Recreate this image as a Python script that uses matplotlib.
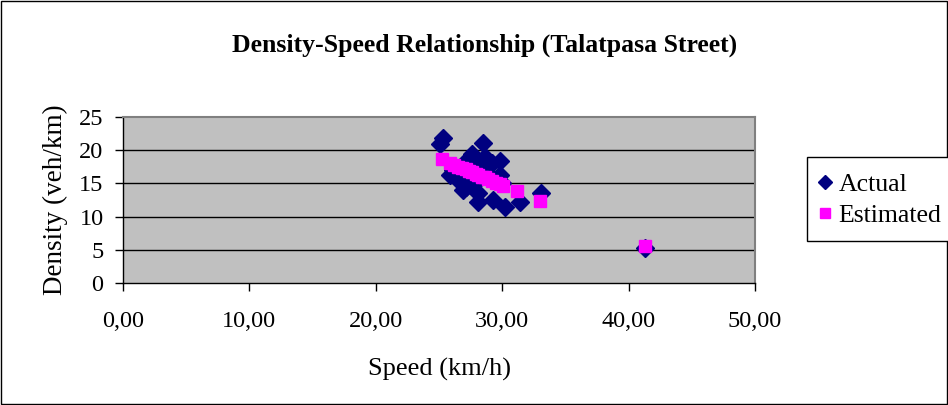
import matplotlib
matplotlib.use("Agg")
import matplotlib.pyplot as plt
from matplotlib.patches import Rectangle

plt.rcParams['font.family'] = ['Liberation Serif', 'DejaVu Serif']

# Actual observations (speed km/h, density veh/km)
actual_speed = [25.3, 25.1, 28.5, 27.6, 28.6, 29.8, 29.2, 25.9, 26.4, 27.1, 26.9,
                29.8, 28.1, 28.1, 29.3, 30.2, 31.4, 33.1, 27.3, 27.9, 28.3,
                28.8, 26.1, 27.5, 28.0, 29.0, 30.0, 26.6, 41.3, 28.4]
actual_density = [21.8, 20.9, 21.1, 19.5, 19.0, 18.3, 18.0, 16.3, 16.0, 14.5, 14.0,
                  16.3, 13.5, 12.2, 12.5, 11.5, 12.2, 13.6, 18.6, 18.3, 17.6,
                  16.6, 17.0, 16.0, 15.3, 15.8, 15.0, 15.4, 5.3, 17.8]

# Estimated values
est_speed = [25.2, 25.9, 26.2, 26.5, 26.8, 27.1, 27.4, 27.6, 27.9, 28.1,
             28.4, 28.6, 28.9, 29.2, 29.5, 29.8, 30.1, 31.2, 33.0, 41.3]
est_density = [18.6, 18.0, 17.8, 17.5, 17.3, 17.1, 16.8, 16.7, 16.4, 16.3,
               16.0, 15.9, 15.6, 15.4, 15.1, 14.9, 14.6, 13.8, 12.4, 5.6]

xticks = [0, 10, 20, 30, 40, 50]
xticklabels = ['0,00', '10,00', '20,00', '30,00', '40,00', '50,00']
yticks = [0, 5, 10, 15, 20, 25]

W, H = 948, 405
fig = plt.figure(figsize=(W / 100, H / 100), dpi=100)
fig.patches.append(Rectangle((0.001, 0.002), 0.998, 0.996, transform=fig.transFigure,
                             fill=False, edgecolor='black', linewidth=1))

ax = fig.add_axes([123 / W, 1 - 283 / H, (755 - 123) / W, (283 - 117) / H])
ax.set_facecolor('#C0C0C0')
for y in yticks[1:-1]:
    ax.axhline(y, color='black', linewidth=1, zorder=1)

ax.plot(actual_speed, actual_density, 'D', color='#000080', markersize=9,
        linestyle='none', label='Actual', zorder=3)
ax.plot(est_speed, est_density, 's', color='#FF00FF', markersize=9,
        linestyle='none', label='Estimated', zorder=4)

ax.set_xlim(0, 50)
ax.set_ylim(0, 25)
ax.set_xticks(xticks)
ax.set_xticklabels(xticklabels)
ax.set_yticks(yticks)
ax.tick_params(direction='out', length=6, width=1, labelsize=17.5)
ax.tick_params(axis='x', pad=14)
ax.tick_params(axis='y', pad=8)
for side in ['left', 'bottom']:
    ax.spines[side].set_linewidth(1)
for side in ['top', 'right']:
    ax.spines[side].set_color('#808080')
    ax.spines[side].set_linewidth(1.5)

ax.set_xlabel('Speed (km/h)', fontsize=19, labelpad=19)
ax.set_ylabel('Density (veh/km)', fontsize=19.5, labelpad=8)
fig.text(485 / W, 1 - 45 / H, 'Density-Speed Relationship (Talatpasa Street)',
         ha='center', va='center', fontsize=18.5, fontweight='bold')

# legend box runs past the right edge of the figure
fig.patches.append(Rectangle((807 / W, 1 - 241 / H), 0.2, 84 / H, transform=fig.transFigure,
                             facecolor='white', edgecolor='black', linewidth=1, zorder=5))
leg = fig.legend(loc='center left', bbox_to_anchor=(813 / W, 1 - 200 / H),
                 fontsize=18.5, frameon=False, handlelength=0.5, handletextpad=0.3,
                 borderpad=0.2, borderaxespad=0, labelspacing=0.35, markerscale=0.8)
leg.set_zorder(6)

fig.savefig('out.png', dpi=100)
